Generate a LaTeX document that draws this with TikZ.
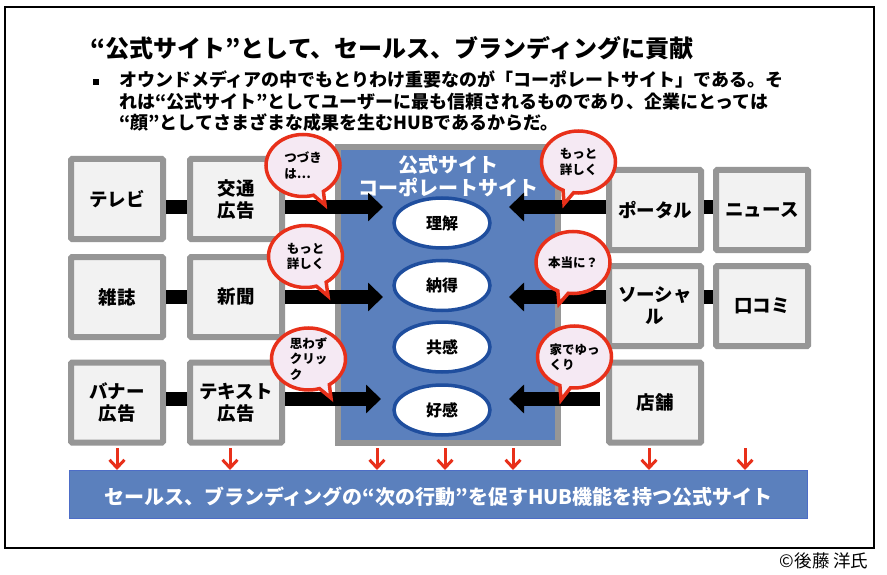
\documentclass[tikz,border=0pt]{standalone}
\usepackage{fontspec}
\setmainfont{Noto Sans CJK JP}
\usetikzlibrary{arrows.meta,shapes.geometric,shapes.callouts}
\definecolor{hubblue}{HTML}{5B80BD}
\definecolor{boxgray}{HTML}{969696}
\definecolor{boxfill}{HTML}{F2F2F2}
\definecolor{redline}{HTML}{E8301A}
\definecolor{bubblefill}{HTML}{F5E9F3}
\definecolor{ringblue}{HTML}{1F4E9E}
\tikzset{
  x=1pt,y=-1pt,
  every node/.style={font=\bfseries,text=black},
  mediabox/.style={draw=boxgray,fill=boxfill,line width=6pt,rounded corners=1pt,minimum width=92pt,minimum height=80pt,inner sep=0pt,align=center,font=\bfseries\fontsize{18.5}{22}\selectfont,anchor=center},
  linkbar/.style={draw=black,line width=14pt},
  bigarrow/.style={draw=black,line width=14pt,-{Triangle[length=15pt,width=28pt]}},
  redarrow/.style={draw=redline,line width=3pt,-{Straight Barb[length=8pt,width=15pt,line width=3pt]}},
  goalring/.style={ellipse,draw=ringblue,fill=white,line width=3.5pt,minimum width=96pt,minimum height=50pt,inner sep=0pt,font=\bfseries\fontsize{16}{18}\selectfont},
  bubble/.style={ellipse callout,draw=redline,fill=bubblefill,line width=3.5pt,minimum width=74pt,minimum height=62pt,inner sep=0pt,callout pointer arc=17,align=left,font=\bfseries\fontsize{12.5}{15.5}\selectfont},
}
\begin{document}
\begin{tikzpicture}
\useasboundingbox (0,0) rectangle (887,575);
\fill[white] (0,0) rectangle (887,575);
\node[draw=black,line width=1.1pt,minimum width=869pt,minimum height=541pt,inner sep=0pt] (frame) at (439.5,277.5) {};
\node[anchor=west,font=\bfseries\fontsize{24}{28}\selectfont] (title) at (87,48) {“公式サイト”として、セールス、ブランディングに貢献};
\node[fill=black,minimum size=5.5pt,inner sep=0pt] (bullet) at (96,82) {};
\node[anchor=north west,align=left,inner sep=0pt,font=\bfseries\fontsize{18}{21.5}\selectfont] (lead) at (119,70.5) {オウンドメディアの中でもとりわけ重要なのが「コーポレートサイト」である。そ\\れは“公式サイト”としてユーザーに最も信頼されるものであり、企業にとっては\\“顔”としてさまざまな成果を生むHUBであるからだ。};
% center panel
\node[draw=boxgray,fill=hubblue,line width=6pt,minimum width=220pt,minimum height=296pt,inner sep=0pt] (hub) at (448,295) {};
\node[align=center,text=white,font=\bfseries\fontsize{20}{23}\selectfont] (hubtitle) at (448,176) {公式サイト\\コーポレートサイト};
% media boxes
\node[mediabox] (tv) at (117,199) {テレビ};
\node[mediabox] (kotsu) at (236,199) {交通\\広告};
\node[mediabox] (zasshi) at (117,297) {雑誌};
\node[mediabox] (shinbun) at (236,297) {新聞};
\node[mediabox] (banner) at (117,402.5) {バナー\\広告};
\node[mediabox] (text) at (236,402.5) {テキスト\\広告};
\node[mediabox] (portal) at (655,210) {ポータル};
\node[mediabox] (news) at (762,210) {ニュース};
\node[mediabox] (social) at (655,306) {ソーシャ\\ル};
\node[mediabox] (kuchi) at (762,306) {口コミ};
\node[mediabox] (store) at (655,402.5) {店舗};
% goals
\node[goalring] (rikai) at (442,223) {理解};
\node[goalring] (nattoku) at (442,285.5) {納得};
\node[goalring] (kyokan) at (442,347) {共感};
\node[goalring] (kokan) at (442,410) {好感};
% links
\draw[linkbar] ([yshift=-8pt]tv.east) -- ([yshift=-8pt]kotsu.west);
\draw[linkbar] (zasshi.east) -- (shinbun.west);
\draw[linkbar] ([yshift=3.5pt]banner.east) -- ([yshift=3.5pt]text.west);
\draw[linkbar] ([yshift=3pt]portal.east) -- ([yshift=3pt]news.west);
\draw[linkbar] ([yshift=9pt]social.east) -- ([yshift=9pt]kuchi.west);
% big arrows
\coordinate (al1) at (383,207);
\coordinate (al2) at (383,297);
\coordinate (al3) at (381,399);
\coordinate (ar1) at (509,207);
\coordinate (ar2) at (509,297);
\coordinate (ar3) at (509,399);
\coordinate (st3) at (600,399);
\draw[bigarrow] (kotsu.east |- al1) -- (al1);
\draw[bigarrow] (shinbun.east) -- (al2);
\draw[bigarrow] (text.east |- al3) -- (al3);
\draw[bigarrow] (portal.west |- ar1) -- (ar1);
\draw[bigarrow] (social.west |- ar2) -- (ar2);
\draw[bigarrow] (st3) -- (ar3);
% bubbles
\node[bubble,callout absolute pointer={(325,205)}] (b1) at (303,165.5) {つづき\\は…};
\node[bubble,callout absolute pointer={(328,296)}] (b2) at (305.5,256.5) {もっと\\詳しく};
\node[bubble,callout absolute pointer={(331,398)}] (b3) at (308.5,359) {思わず\\クリッ\\ク};
\node[bubble,callout absolute pointer={(564,204)}] (b4) at (578.5,162) {もっと\\詳しく};
\node[bubble,callout absolute pointer={(559,304)}] (b5) at (573,262.5) {本当に？};
\node[bubble,callout absolute pointer={(561,400)}] (b6) at (574.5,357) {家でゆっ\\くり};
% bottom bar
\node[draw=hubblue!85!blue,fill=hubblue,line width=1pt,minimum width=738pt,minimum height=48pt,inner sep=0pt] (bar) at (438.5,494.5) {};
\node[text=white,font=\bfseries\fontsize{20}{24}\selectfont] (bartext) at (438.5,497) {セールス、ブランディングの“次の行動”を促すHUB機能を持つ公式サイト};
\foreach \n/\x in {d1/117,d2/230,d3/377,d4/445,d5/513,d6/649,d7/745}{
  \coordinate (\n) at (\x,448);
  \draw[redarrow] (\n) -- (\n |- bar.north);
}
\node[anchor=east,font=\fontsize{17.5}{20}\selectfont] (credit) at (872,561) {©後藤 洋氏};
\end{tikzpicture}
\end{document}
